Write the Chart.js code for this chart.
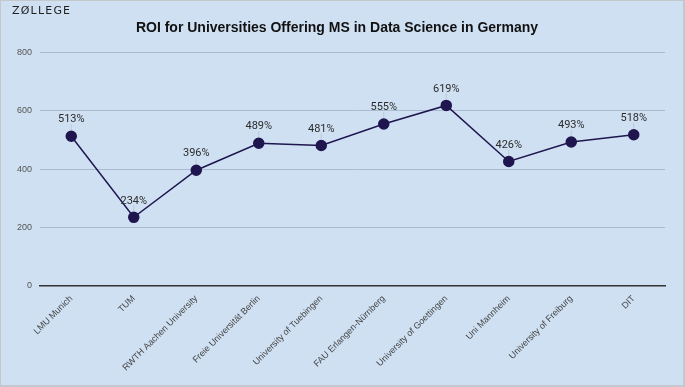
<!DOCTYPE html>
<html>
<head>
<meta charset="utf-8">
<script src="https://cdn.jsdelivr.net/npm/chart.js@4/dist/chart.umd.min.js"></script>
<style>
  html, body { margin: 0; padding: 0; }
  body { width: 685px; height: 387px; overflow: hidden; }
  .frame {
    position: relative;
    box-sizing: border-box;
    width: 685px;
    height: 387px;
    background: #cfe0f2;
    border: 1px solid #c4c8cc;
    border-right-width: 2px;
    border-bottom-width: 2px;
  }
  .logo {
    position: absolute;
    left: 11px;
    top: 3px;
    font: 11px 'DejaVu Sans', sans-serif;
    letter-spacing: 1.2px;
    color: #222;
  }
  canvas { display: block; }
</style>
</head>
<body>
<div class="frame">
  <div class="logo">ZØLLEGE</div>
  <canvas id="myChart" width="682" height="372"></canvas>
</div>
<script>
const universities = [
  'LMU Munich',
  'TUM',
  'RWTH Aachen University',
  'Freie Universität Berlin',
  'University of Tuebingen',
  'FAU Erlangen-Nürnberg',
  'University of Goettingen',
  'Uni Mannheim',
  'University of Freiburg',
  'DIT',
];
const roi = [513, 234, 396, 489, 481, 555, 619, 426, 493, 518];
const yTicks = [0, 200, 400, 600, 800];

const LINE_COLOR = '#1f1650';

// draws "513%" style labels above every point
const valueLabels = {
  id: 'valueLabels',
  afterDatasetsDraw(chart) {
    const { ctx } = chart;
    const meta = chart.getDatasetMeta(0);
    ctx.save();
    ctx.font = '11px Roboto, sans-serif';
    ctx.fillStyle = '#2b2b2b';
    ctx.textAlign = 'center';
    ctx.textBaseline = 'bottom';
    meta.data.forEach((point, i) => {
      ctx.strokeStyle = 'rgba(180, 196, 212, 0.8)';
      ctx.lineWidth = 1;
      ctx.beginPath();
      ctx.moveTo(point.x, point.y - 6);
      ctx.lineTo(point.x, point.y - 12);
      ctx.stroke();
      ctx.fillText(roi[i] + '%', point.x, point.y - 11);
    });
    ctx.restore();
  },
};

const context = document.getElementById('myChart').getContext('2d');

new Chart(context, {
  type: 'line',
  data: {
    labels: universities,
    datasets: [
      {
        label: 'ROI',
        data: roi,
        borderColor: LINE_COLOR,
        backgroundColor: LINE_COLOR,
        borderWidth: 1.5,
        pointRadius: 5,
        pointHoverRadius: 5,
        tension: 0,
      },
    ],
  },
  options: {
    responsive: false,
    animation: false,
    layout: { padding: { left: 8, right: 18, top: 0, bottom: 0 } },
    plugins: {
      legend: { display: false },
      tooltip: { enabled: false },
      title: {
        display: true,
        text: 'ROI for Universities Offering MS in Data Science in Germany',
        color: '#111',
        font: { family: "'Liberation Sans', Arial, sans-serif", size: 14, weight: 'bold' },
        padding: { top: 19, bottom: 16 },
      },
    },
    scales: {
      x: {
        offset: true,
        grid: { display: false },
        border: { color: '#333', width: 1.5 },
        ticks: {
          maxRotation: 45,
          minRotation: 45,
          autoSkip: false,
          padding: 0,
          color: '#444',
          font: { family: "'Liberation Sans', Arial, sans-serif", size: 9 },
        },
      },
      y: {
        min: 0,
        max: 800,
        afterBuildTicks(axis) {
          axis.ticks = yTicks.map(value => ({ value }));
        },
        grid: {
          drawTicks: false,
          color: ctx => (ctx.tick.value === 0 ? 'rgba(0,0,0,0)' : '#a9bccf'),
          lineWidth: 1,
        },
        border: { display: false },
        ticks: {
          padding: 8,
          color: '#555',
          font: { family: "'Liberation Sans', Arial, sans-serif", size: 9 },
        },
      },
    },
  },
  plugins: [valueLabels],
});
</script>
</body>
</html>
